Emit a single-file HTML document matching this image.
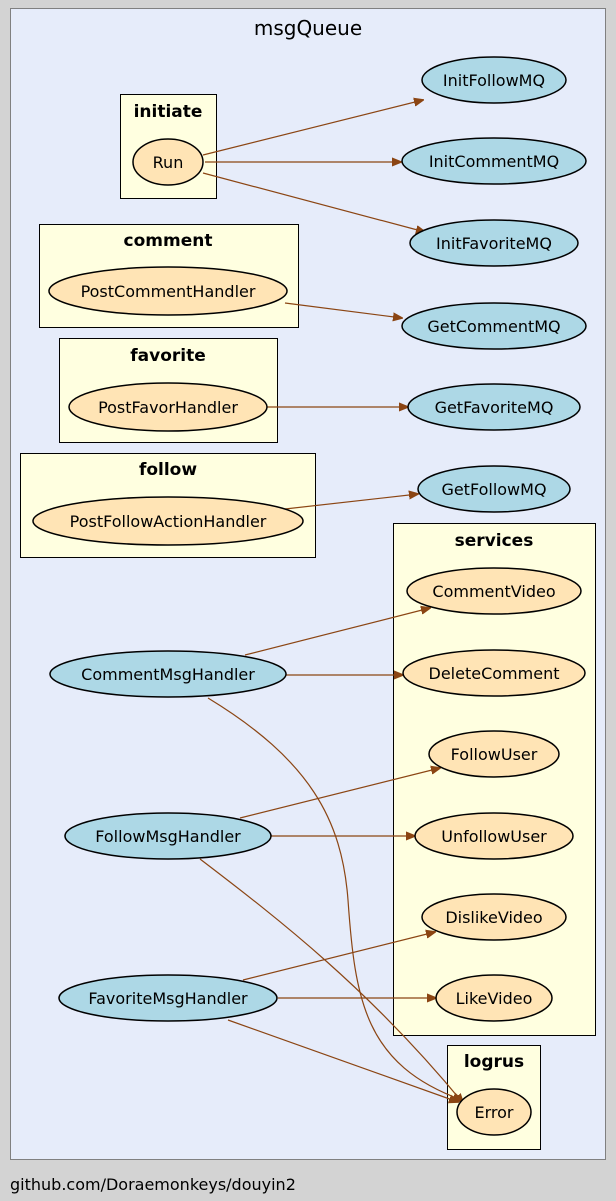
<!DOCTYPE html>
<html><head><meta charset="utf-8"><style>
html,body{margin:0;padding:0;background:#d3d3d3;}
svg{display:block;}
text{font-family:"DejaVu Sans","Liberation Sans",sans-serif;font-size:16px;fill:#000;}
.t{font-weight:bold;font-size:17px;}
</style></head><body>
<svg width="616" height="1201" viewBox="0 0 616 1201" xmlns="http://www.w3.org/2000/svg">
<defs><marker id="a" viewBox="0 0 10 10" refX="9" refY="5" markerWidth="10" markerHeight="10" markerUnits="userSpaceOnUse" orient="auto"><path d="M0,1 L10,5 L0,9 z" fill="#8b4513" stroke="#8b4513"/></marker></defs>
<rect width="616" height="1201" fill="#d3d3d3"/>
<rect x="10.5" y="8.5" width="595" height="1151" fill="#e6ecfa" stroke="#808080"/>
<text x="308" y="35" text-anchor="middle" style="font-size:20px">msgQueue</text>
<g fill="#ffffe0" stroke="#000">
<rect x="120.5" y="94.5" width="96" height="104"/>
<rect x="39.5" y="224.5" width="259" height="103"/>
<rect x="59.5" y="338.5" width="218" height="104"/>
<rect x="20.5" y="453.5" width="295" height="104"/>
<rect x="393.5" y="523.5" width="202" height="512"/>
<rect x="447.5" y="1045.5" width="93" height="104"/>
</g>
<text class="t" x="168" y="117" text-anchor="middle">initiate</text>
<text class="t" x="168" y="246" text-anchor="middle">comment</text>
<text class="t" x="168" y="361" text-anchor="middle">favorite</text>
<text class="t" x="168" y="475" text-anchor="middle">follow</text>
<text class="t" x="494" y="546" text-anchor="middle">services</text>
<text class="t" x="494" y="1067" text-anchor="middle">logrus</text>
<g stroke="#8b4513" stroke-width="1.2" fill="none" marker-end="url(#a)">
<path d="M203,155 L423,100"/>
<path d="M205,162 L401,162"/>
<path d="M203,173 L425,232"/>
<path d="M285,303 L402,318"/>
<path d="M267,407 L408,407"/>
<path d="M285,509 L418,494"/>
<path d="M245,655 L430,608"/>
<path d="M286,675 L403,675"/>
<path d="M208,698 C310,760 342,820 348,900 C355,1000 365,1065 462,1100"/>
<path d="M240,818 L440,768"/>
<path d="M271,836 L415,836"/>
<path d="M200,859 C280,920 370,990 463,1103"/>
<path d="M243,980 L435,932"/>
<path d="M278,998 L436,998"/>
<path d="M228,1020 L458,1102"/>
</g>
<g stroke="#000" stroke-width="1.5">
<ellipse cx="168" cy="162" rx="35" ry="23" fill="#ffe4b5"/>
<ellipse cx="168" cy="291" rx="119" ry="24" fill="#ffe4b5"/>
<ellipse cx="168" cy="407" rx="99" ry="24" fill="#ffe4b5"/>
<ellipse cx="168" cy="521" rx="135" ry="24" fill="#ffe4b5"/>
<ellipse cx="494" cy="80" rx="72" ry="23" fill="#add8e6"/>
<ellipse cx="494" cy="161" rx="92" ry="23" fill="#add8e6"/>
<ellipse cx="494" cy="243" rx="84" ry="23" fill="#add8e6"/>
<ellipse cx="494" cy="326" rx="92" ry="23" fill="#add8e6"/>
<ellipse cx="494" cy="407" rx="86" ry="23" fill="#add8e6"/>
<ellipse cx="494" cy="489" rx="76" ry="23" fill="#add8e6"/>
<ellipse cx="494" cy="591" rx="87" ry="23" fill="#ffe4b5"/>
<ellipse cx="494" cy="673" rx="91" ry="23" fill="#ffe4b5"/>
<ellipse cx="494" cy="754" rx="65" ry="23" fill="#ffe4b5"/>
<ellipse cx="494" cy="836" rx="79" ry="23" fill="#ffe4b5"/>
<ellipse cx="494" cy="917" rx="72" ry="23" fill="#ffe4b5"/>
<ellipse cx="494" cy="998" rx="58" ry="23" fill="#ffe4b5"/>
<ellipse cx="494" cy="1112" rx="37" ry="23" fill="#ffe4b5"/>
<ellipse cx="168" cy="674" rx="118" ry="23" fill="#add8e6"/>
<ellipse cx="168" cy="836" rx="103" ry="23" fill="#add8e6"/>
<ellipse cx="168" cy="998" rx="109" ry="23" fill="#add8e6"/>
</g>
<g text-anchor="middle">
<text x="168" y="168">Run</text>
<text x="168" y="297">PostCommentHandler</text>
<text x="168" y="413">PostFavorHandler</text>
<text x="168" y="527">PostFollowActionHandler</text>
<text x="494" y="86">InitFollowMQ</text>
<text x="494" y="167">InitCommentMQ</text>
<text x="494" y="249">InitFavoriteMQ</text>
<text x="494" y="332">GetCommentMQ</text>
<text x="494" y="413">GetFavoriteMQ</text>
<text x="494" y="495">GetFollowMQ</text>
<text x="494" y="597">CommentVideo</text>
<text x="494" y="679">DeleteComment</text>
<text x="494" y="760">FollowUser</text>
<text x="494" y="842">UnfollowUser</text>
<text x="494" y="923">DislikeVideo</text>
<text x="494" y="1004">LikeVideo</text>
<text x="494" y="1118">Error</text>
<text x="168" y="680">CommentMsgHandler</text>
<text x="168" y="842">FollowMsgHandler</text>
<text x="168" y="1004">FavoriteMsgHandler</text>
</g>
<text x="10" y="1190" style="font-size:16px">github.com/Doraemonkeys/douyin2</text>
</svg>
</body></html>
